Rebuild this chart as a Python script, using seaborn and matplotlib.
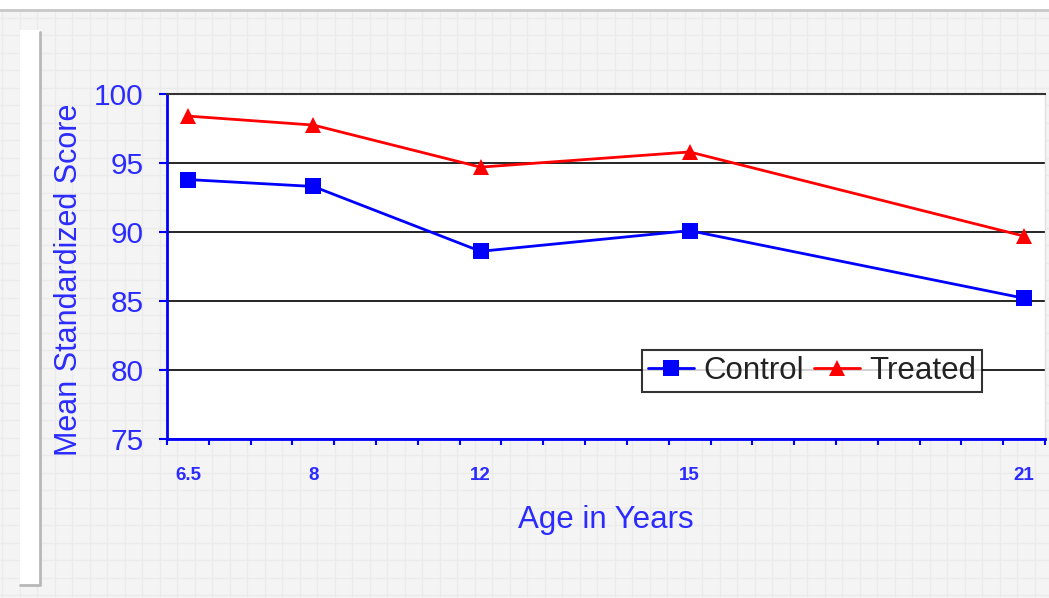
import numpy as np
import pandas as pd
import matplotlib
matplotlib.use('Agg')
import matplotlib.pyplot as plt
import seaborn as sns
from matplotlib.patches import Rectangle

# Data
age_labels = ['6.5', '8', '12', '15', '21']
age_slot = [0, 3, 7, 12, 20]   # category slot on the Excel-style axis
control = [93.8, 93.3, 88.6, 90.1, 85.2]
treated = [98.4, 97.75, 94.7, 95.8, 89.7]

df = pd.DataFrame({
    'slot': age_slot * 2,
    'score': control + treated,
    'group': ['Control'] * 5 + ['Treated'] * 5,
})

sns.set_theme(style='white')
plt.rcParams['font.family'] = ['Liberation Sans', 'DejaVu Sans']

W, H = 1049, 598
fig = plt.figure(figsize=(W / 100, H / 100), dpi=100)
fig.patch.set_facecolor('white')

# graph-paper background
bg = fig.add_axes([0, 0, 1, (H - 10) / H], zorder=-2)
bg.set_facecolor('#f4f4f4')
bg.set_xlim(0, W)
bg.set_ylim(0, H - 10)
bg.set_xticks(np.arange(2, W, 17.5))
bg.set_yticks(np.arange(3, H, 17.5))
bg.grid(True, color='#ebebeb', lw=1)
bg.tick_params(length=0, labelbottom=False, labelleft=False)
for s in bg.spines.values():
    s.set_visible(False)
bg.spines['top'].set_visible(True)
bg.spines['top'].set_color('#c8c8c8')
bg.spines['top'].set_linewidth(2)
# white strip on the left
bg.add_patch(Rectangle((20, 13), 20, H - 10 - 20 - 13, facecolor='white',
                       edgecolor='none'))
bg.plot([40, 40, 20], [H - 10 - 22, 13, 13], color='#b8b8b8', lw=2)

ax = fig.add_axes([167 / W, 1 - 439 / H, (1045 - 167) / W, (439 - 94) / H])
ax.set_facecolor('white')

sns.lineplot(data=df, x='slot', y='score', hue='group', style='group',
             palette={'Control': '#0000ff', 'Treated': '#ff0000'},
             markers={'Control': 's', 'Treated': '^'}, dashes=False,
             linewidth=2, markersize=11, markeredgewidth=0, ax=ax, zorder=3)

ax.set_xlim(-0.5, 20.5)
ax.set_ylim(75, 100)
ax.set_yticks([75, 80, 85, 90, 95, 100])
ax.set_xticks(age_slot)
ax.set_xticklabels(age_labels)
ax.set_xticks(np.arange(-0.5, 20.6, 1), minor=True)

blue = '#2b2bff'
ax.tick_params(axis='y', which='major', direction='out', length=6, width=1.5,
               color='#0000ff', pad=11, labelsize=21.5, labelcolor=blue, left=True)
ax.tick_params(axis='x', which='major', length=0, pad=20, labelsize=13.5,
               labelcolor=blue)
ax.tick_params(axis='x', which='minor', direction='out', length=4.5, width=1.5,
               color='#0000ff', bottom=True)
for lab in ax.get_xticklabels():
    lab.set_fontweight('bold')

ax.grid(axis='y', color='black', lw=1.2)
ax.grid(axis='x', visible=False)
ax.spines['left'].set_color('#0000ff')
ax.spines['left'].set_linewidth(2)
ax.spines['bottom'].set_color('#0000ff')
ax.spines['bottom'].set_linewidth(2)
ax.spines['top'].set_color('#333333')
ax.spines['top'].set_linewidth(1.5)
ax.spines['right'].set_color('#e0e0e0')
ax.spines['right'].set_linewidth(1)

ax.set_xlabel('Age in Years', fontsize=22.5, color=blue, labelpad=15)
ax.set_ylabel('Mean Standardized Score', fontsize=22, color=blue)
ax.yaxis.set_label_coords(-0.095, 0.461)

leg = ax.legend(loc='upper left', bbox_to_anchor=(0.541, 0.258), ncol=2,
                frameon=True, fancybox=False, edgecolor='black', fontsize=22.5,
                borderaxespad=0, handlelength=1.45, handletextpad=0.3,
                columnspacing=0.35, borderpad=0.2)
leg.get_frame().set_linewidth(1.5)
for t in leg.get_texts():
    t.set_color('#222222')

fig.savefig('out.png', dpi=100)
